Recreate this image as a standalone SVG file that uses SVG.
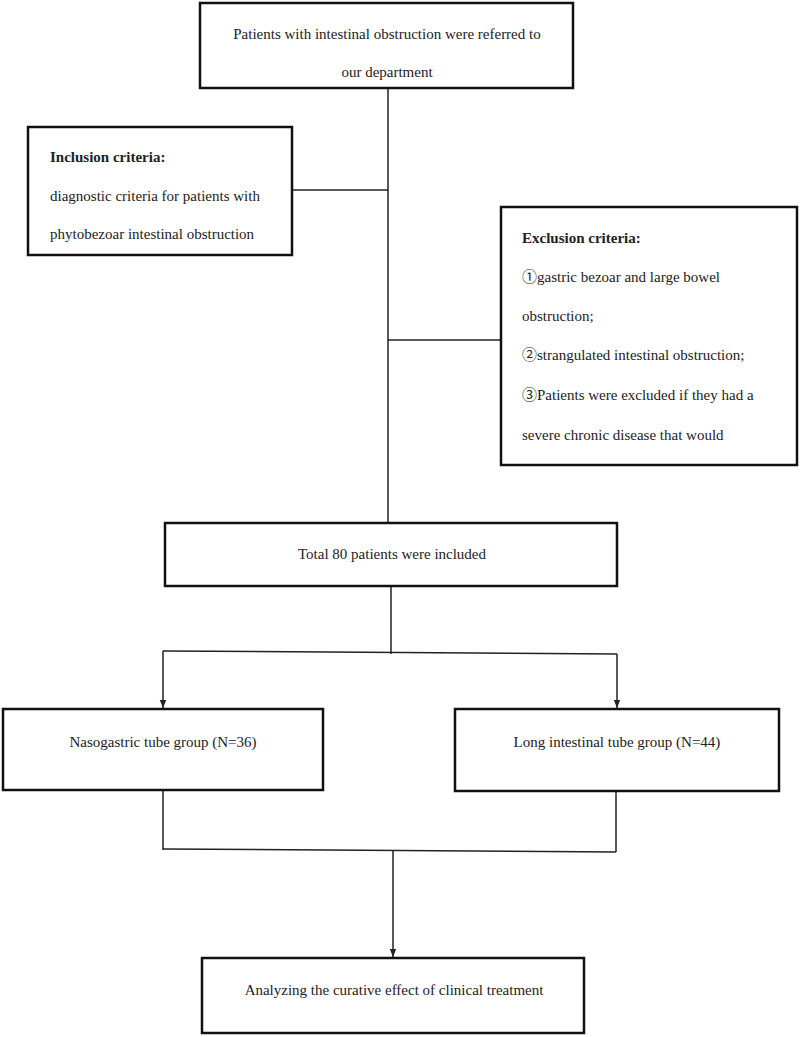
<svg xmlns="http://www.w3.org/2000/svg" width="800" height="1037" viewBox="0 0 800 1037">
<style>
.box{fill:#fff;stroke:#111;stroke-width:2.5}
.t{font-family:"Liberation Serif","Noto Sans CJK SC",serif;font-size:15px;fill:#222}
.c{text-anchor:middle}
.b{font-weight:bold}
.ln{stroke:#222;stroke-width:1.5;fill:none}
</style>
<defs>
<marker id="ah" markerUnits="userSpaceOnUse" markerWidth="8" markerHeight="8" viewBox="0 0 8 8" refX="8" refY="4" orient="auto">
<path d="M0,0.8 L8,4 L0,7.2 Z" fill="#222"/>
</marker>
</defs>
<rect width="800" height="1037" fill="#fff"/>
<g id="connectors">
<line class="ln" x1="388" y1="88" x2="388" y2="523"/>
<line class="ln" x1="292" y1="190" x2="388" y2="190"/>
<line class="ln" x1="388" y1="340" x2="501" y2="340"/>
<line class="ln" x1="391" y1="586" x2="391" y2="654"/>
<line class="ln" x1="163" y1="651" x2="617" y2="654"/>
<line class="ln" x1="163" y1="651" x2="163" y2="708" marker-end="url(#ah)"/>
<line class="ln" x1="617" y1="654" x2="617" y2="708" marker-end="url(#ah)"/>
<line class="ln" x1="163" y1="790" x2="163" y2="850"/>
<line class="ln" x1="616" y1="791" x2="616" y2="852"/>
<line class="ln" x1="163" y1="849" x2="616" y2="852"/>
<line class="ln" x1="393" y1="851" x2="393" y2="957" marker-end="url(#ah)"/>
</g>
<g id="start">
<rect class="box" x="200" y="3" width="373" height="85"/>
<text class="t c" x="387" y="39">Patients with intestinal obstruction were referred to</text>
<text class="t c" x="387" y="77">our department</text>
</g>
<g id="inclusion">
<rect class="box" x="28" y="127" width="264" height="128"/>
<text class="t b" x="50" y="162">Inclusion criteria:</text>
<text class="t" x="50" y="201">diagnostic criteria for patients with</text>
<text class="t" x="50" y="239">phytobezoar intestinal obstruction</text>
</g>
<g id="exclusion">
<rect class="box" x="501" y="207" width="296" height="258"/>
<text class="t b" x="522" y="243">Exclusion criteria:</text>
<text class="t" x="522" y="282">①gastric bezoar and large bowel</text>
<text class="t" x="522" y="321">obstruction;</text>
<text class="t" x="522" y="360">②strangulated intestinal obstruction;</text>
<text class="t" x="522" y="400">③Patients were excluded if they had a</text>
<text class="t" x="522" y="440">severe chronic disease that would</text>
</g>
<g id="total">
<rect class="box" x="165" y="523" width="452" height="63"/>
<text class="t c" x="392" y="559">Total 80 patients were included</text>
</g>
<g id="nasogastric">
<rect class="box" x="3" y="709" width="320" height="81"/>
<text class="t c" x="163" y="747">Nasogastric tube group (N=36)</text>
</g>
<g id="longtube">
<rect class="box" x="455" y="709" width="324" height="82"/>
<text class="t c" x="617" y="747">Long intestinal tube group (N=44)</text>
</g>
<g id="analysis">
<rect class="box" x="202" y="958" width="382" height="75"/>
<text class="t c" x="394" y="995">Analyzing the curative effect of clinical treatment</text>
</g>
</svg>
